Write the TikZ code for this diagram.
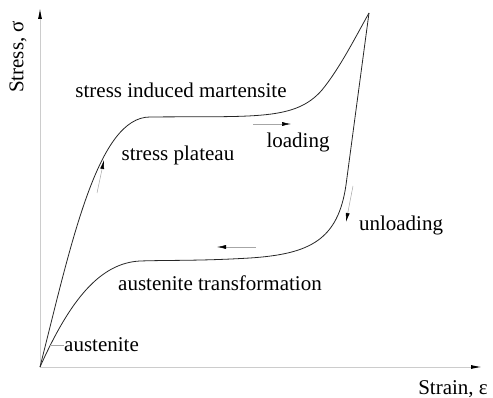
\documentclass[tikz,border=0pt]{standalone}
\usepackage{fontspec}
\setmainfont{Liberation Serif}
\usetikzlibrary{arrows.meta}

\begin{document}
\begin{tikzpicture}[
    x=1pt, y=-1pt,
    lbl/.style={font=\fontsize{21}{24}\selectfont, inner sep=0pt},
    axis/.style={draw=black!20, line width=1pt, -{Latex[black, length=11pt, width=4pt]}},
    curve/.style={draw=black!85, line width=0.8pt},
    hint/.style={draw=black!35, line width=0.5pt, -{Latex[black, length=9pt, width=4pt]}}
]
    \useasboundingbox (0,0) rectangle (493,398);

    % axes
    \coordinate (o) at (40,367);
    \coordinate (ytip) at (40,8);
    \coordinate (xtip) at (482,367);
    \draw[axis] (o) -- (ytip);
    \draw[axis] (o) -- (xtip);
    \node[lbl, rotate=90] (ylab) at (18,57) {Stress, σ};
    \node[lbl] (xlab) at (453,389) {Strain, ε};

    % loading and unloading curves
    \coordinate (peak) at (369,13);
    \draw[curve] (o) .. controls (72,240) and (98,117) .. (150,117)
        .. controls (255,116) and (295,121) .. (322,90)
        .. controls (340,68) and (356,36) .. (peak);
    \draw[curve] (peak) .. controls (360,80) and (352,140) .. (346,185)
        .. controls (338,240) and (310,254) .. (250,258)
        .. controls (200,261) and (170,260) .. (140,261)
        .. controls (100,263) and (70,300) .. (o);

    % direction hints
    \coordinate (a1) at (97,193);  \coordinate (a2) at (104,160);
    \coordinate (b1) at (253,124); \coordinate (b2) at (291,124);
    \coordinate (c1) at (353,186); \coordinate (c2) at (346,222);
    \coordinate (d1) at (256,247); \coordinate (d2) at (217,247);
    \draw[hint] (a1) -- (a2);
    \draw[hint] (b1) -- (b2);
    \draw[hint] (c1) -- (c2);
    \draw[hint] (d1) -- (d2);

    % labels
    \node[lbl] (sim) at (181,90) {stress induced martensite};
    \node[lbl] (plat) at (178,155) {stress plateau};
    \node[lbl] (load) at (298,142) {loading};
    \node[lbl] (unload) at (401,225) {unloading};
    \node[lbl] (atr) at (220,283) {austenite transformation};
    \node[lbl, anchor=west] (aus) at (64,345) {austenite};
    \coordinate (t1) at (50,345);
    \draw[draw=black!35, line width=0.5pt] (t1) -- (aus.west);
\end{tikzpicture}
\end{document}
